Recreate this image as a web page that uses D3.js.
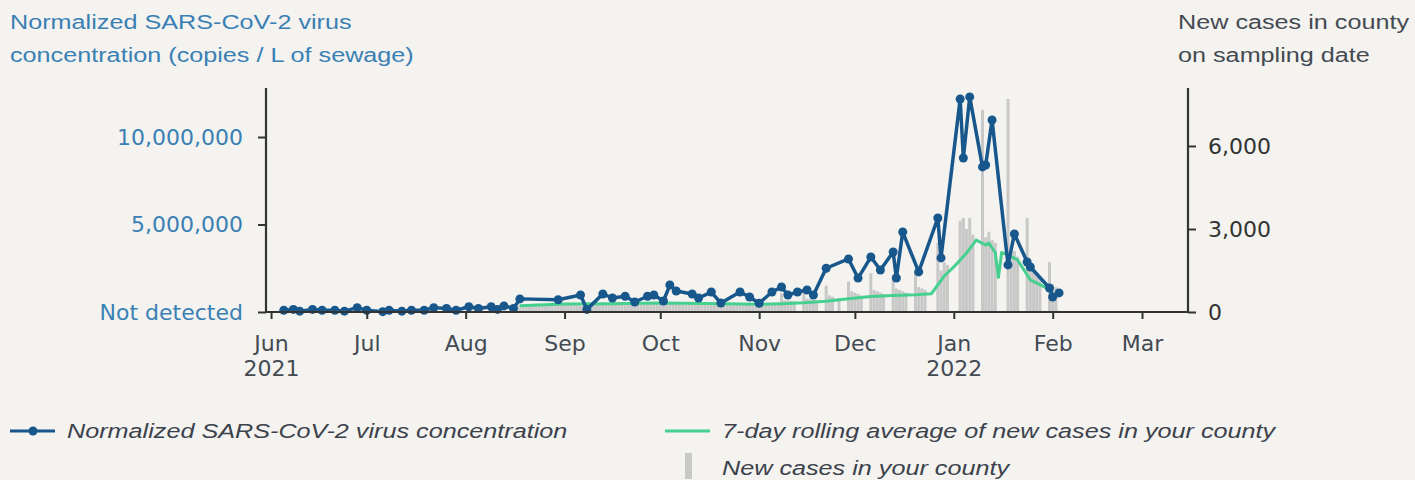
<!DOCTYPE html>
<html><head><meta charset="utf-8">
<script src="https://cdn.jsdelivr.net/npm/d3@7"></script>
<style>
html,body{margin:0;padding:0;background:#f4f3f0;}
svg{display:block;}
</style></head>
<body><svg id="c" width="1415" height="480"></svg>
<script>
// ---------- DATA ----------
const virusDates = ["2021-06-05","2021-06-08","2021-06-10","2021-06-14","2021-06-17","2021-06-21","2021-06-24","2021-06-28","2021-07-01","2021-07-06","2021-07-08","2021-07-12","2021-07-15","2021-07-19","2021-07-22","2021-07-26","2021-07-29","2021-08-02","2021-08-05","2021-08-09","2021-08-11","2021-08-13","2021-08-16","2021-08-18","2021-08-30","2021-09-06","2021-09-08","2021-09-13","2021-09-16","2021-09-20","2021-09-23","2021-09-27","2021-09-29","2021-10-02","2021-10-04","2021-10-06","2021-10-11","2021-10-13","2021-10-17","2021-10-20","2021-10-26","2021-10-29","2021-11-01","2021-11-05","2021-11-08","2021-11-10","2021-11-13","2021-11-16","2021-11-18","2021-11-22","2021-11-29","2021-12-02","2021-12-06","2021-12-09","2021-12-13","2021-12-14","2021-12-16","2021-12-21","2021-12-27","2021-12-28","2022-01-03","2022-01-04","2022-01-06","2022-01-10","2022-01-11","2022-01-13","2022-01-18","2022-01-20","2022-01-24","2022-01-25","2022-01-31","2022-02-01","2022-02-03"];
const virusValues = [100000,150000,50000,150000,100000,100000,50000,250000,100000,20000,100000,50000,100000,100000,250000,200000,100000,300000,200000,300000,150000,350000,200000,750000,700000,970000,150000,1030000,800000,900000,570000,900000,970000,630000,1540000,1200000,1030000,800000,1140000,510000,1140000,860000,500000,1140000,1430000,970000,1140000,1260000,970000,2500000,3030000,1940000,3140000,2400000,3430000,1940000,4570000,2290000,5370000,3090000,12170000,8800000,12290000,8290000,8400000,10970000,2690000,4460000,2860000,2570000,1370000,860000,1090000];

const avgDates = ["2021-08-18","2021-09-01","2021-09-15","2021-10-01","2021-10-15","2021-11-01","2021-11-08","2021-11-15","2021-11-22","2021-11-29","2021-12-06","2021-12-13","2021-12-20","2021-12-25","2021-12-29","2022-01-01","2022-01-05","2022-01-08","2022-01-11","2022-01-12","2022-01-14","2022-01-15","2022-01-16","2022-01-18","2022-01-21","2022-01-25","2022-01-30","2022-02-01"];
const avgValues = [230,290,300,325,310,280,300,330,390,480,560,600,620,660,1300,1630,2130,2600,2420,2490,2150,1250,2150,2060,1880,1160,870,690];

const casesStart = "2021-08-18";
const casesValues = [
  260,280,250,230,240,
  300,290,280,270,260,240,250,
  320,300,290,280,270,250,260,
  230,340,310,300,290,260,270,
  340,310,300,290,280,260,270,
  340,320,310,300,290,270,280,
  350,320,310,300,290,270,280,
  330,310,300,290,280,260,270,
  320,300,290,280,270,250,260,
  310,290,280,270,260,240,250,
  300,280,270,260,250,230,240,
  320,300,290,280,270,250,260,
  680,420,420,400,380,0,0,
  750,480,460,440,420,0,0,
  950,600,550,0,500,0,0,
  1100,750,700,650,600,0,0,
  1400,800,750,700,650,0,0,
  1350,850,800,750,700,0,0,
  1450,900,850,800,0,0,0,
  2500,1500,1800,1700,0,0,0,
  3300,3400,3000,3400,2800,0,0,
  7300,2700,2900,2600,2500,0,0,
  0,7700,2400,2200,2000,0,0,
  3400,1600,1500,1400,1300,0,0,
  1800,1000,900
];

const monthTicks = ["2021-06-01","2021-07-01","2021-08-01","2021-09-01","2021-10-01","2021-11-01","2021-12-01","2022-01-01","2022-02-01","2022-03-01"];
const monthLabels = ["Jun\n2021","Jul","Aug","Sep","Oct","Nov","Dec","Jan\n2022","Feb","Mar"];
const leftTicks = [0, 5000000, 10000000];
const leftTickLabels = ["Not detected","5,000,000","10,000,000"];
const rightTicks = [0, 3000, 6000];
const rightTickLabels = ["0","3,000","6,000"];
const leftTitle = ["Normalized SARS-CoV-2 virus","concentration (copies / L of sewage)"];
const rightTitle = ["New cases in county","on sampling date"];
const legendLabels = ["Normalized SARS-CoV-2 virus concentration","7-day rolling average of new cases in your county","New cases in your county"];

// ---------- CHART ----------
const parse = d3.utcParse("%Y-%m-%d");
const svg = d3.select("#c");
const L = 266, R = 1188, T = 88, B = 312;
const BLUE = "#17578c", GREEN = "#46d08f", GRAY = "#c8c8c8", AX = "#333", TXT = "#444a52", LBLUE = "#3a80b4";
const tickFont = "'DejaVu Sans', sans-serif";
const sansFont = "'Liberation Sans', Arial, sans-serif";
const SX = 1.2; // horizontal widening of the sans text

const x = d3.scaleUtc().domain([Date.UTC(2021,4,30,10), Date.UTC(2022,2,15,10)]).range([L, R]);
const yL = d3.scaleLinear().domain([0, 12800000]).range([B, T]);
const yR = d3.scaleLinear().domain([0, 8096]).range([B, T]);

const s0 = parse(casesStart);
const bars = casesValues.map((v,i)=>({d:d3.utcDay.offset(s0,i), v}));
svg.append("g").selectAll("rect").data(bars.filter(b=>b.v>0)).join("rect")
  .attr("x", d=>x(d.d)-1.5).attr("width",3)
  .attr("y", d=>yR(d.v)).attr("height", d=>yR(0)-yR(d.v))
  .attr("fill", GRAY);

const avg = avgDates.map((d,i)=>({d:parse(d), v:avgValues[i]}));
svg.append("path").datum(avg)
  .attr("d", d3.line().x(d=>x(d.d)).y(d=>yR(d.v)))
  .attr("fill","none").attr("stroke",GREEN).attr("stroke-width",3).attr("stroke-linejoin","round");

const vir = virusDates.map((d,i)=>({d:parse(d), v:virusValues[i]}));
svg.append("path").datum(vir)
  .attr("d", d3.line().x(d=>x(d.d)).y(d=>yL(d.v)))
  .attr("fill","none").attr("stroke",BLUE).attr("stroke-width",3.5).attr("stroke-linejoin","round");
svg.append("g").selectAll("circle").data(vir).join("circle")
  .attr("cx", d=>x(d.d)).attr("cy", d=>yL(d.v)).attr("r",4.5).attr("fill",BLUE);

// axes
const gx = svg.append("g").attr("transform",`translate(0,${B})`)
  .call(d3.axisBottom(x).tickValues(monthTicks.map(parse)).tickSize(7).tickPadding(6).tickFormat(""));
gx.select(".domain").attr("d", `M${L},0H${R}`).attr("stroke",AX).attr("stroke-width",2.2);
gx.selectAll(".tick line").attr("stroke",AX).attr("stroke-width",2);
gx.selectAll(".tick").each(function(d,i){
  const lines = monthLabels[i].split("\n");
  const t = d3.select(this).append("text").attr("fill",TXT).attr("font-family",tickFont).attr("font-size",22)
    .attr("text-anchor","middle");
  lines.forEach((ln,j)=>t.append("tspan").attr("x",0).attr("y", 39 + j*25).text(ln));
});

const gl = svg.append("g").attr("transform",`translate(${L},0)`)
  .call(d3.axisLeft(yL).tickValues(leftTicks).tickSize(8).tickPadding(15).tickFormat((d,i)=>leftTickLabels[i]));
gl.select(".domain").attr("d", `M0,${B}V${T}`).attr("stroke",AX).attr("stroke-width",2.2);
gl.selectAll(".tick line").attr("stroke",AX).attr("stroke-width",2);
gl.selectAll(".tick text").attr("fill",LBLUE).attr("font-family",tickFont).attr("font-size",22);

const gr = svg.append("g").attr("transform",`translate(${R},0)`)
  .call(d3.axisRight(yR).tickValues(rightTicks).tickSize(8).tickPadding(12).tickFormat((d,i)=>rightTickLabels[i]));
gr.select(".domain").attr("d", `M0,${B}V${T}`).attr("stroke",AX).attr("stroke-width",2.2);
gr.selectAll(".tick line").attr("stroke",AX).attr("stroke-width",2);
gr.selectAll(".tick text").attr("fill","#333").attr("font-family",tickFont).attr("font-size",22);

// helper for widened sans text
function wideText(g, str, tx, ty){
  return g.append("text").attr("transform",`translate(${tx},${ty}) scale(${SX},1)`).text(str)
    .attr("font-family",sansFont).attr("font-size",21);
}
// titles
leftTitle.forEach((t,i)=>wideText(svg,t,10,29+i*33).attr("fill",LBLUE));
rightTitle.forEach((t,i)=>wideText(svg,t,1178,29+i*33).attr("fill",TXT));

// legend
const lg = svg.append("g");
lg.append("line").attr("x1",10).attr("x2",55).attr("y1",431).attr("y2",431).attr("stroke",BLUE).attr("stroke-width",3);
lg.append("circle").attr("cx",33).attr("cy",431).attr("r",4.5).attr("fill",BLUE);
wideText(lg, legendLabels[0], 67, 438);
lg.append("line").attr("x1",665).attr("x2",710).attr("y1",431).attr("y2",431).attr("stroke",GREEN).attr("stroke-width",3);
wideText(lg, legendLabels[1], 722, 438);
lg.append("rect").attr("x",685).attr("y",453).attr("width",7).attr("height",26).attr("fill",GRAY);
wideText(lg, legendLabels[2], 722, 475);
lg.selectAll("text").attr("fill","#3c424c").attr("font-style","italic");
</script></body></html>
